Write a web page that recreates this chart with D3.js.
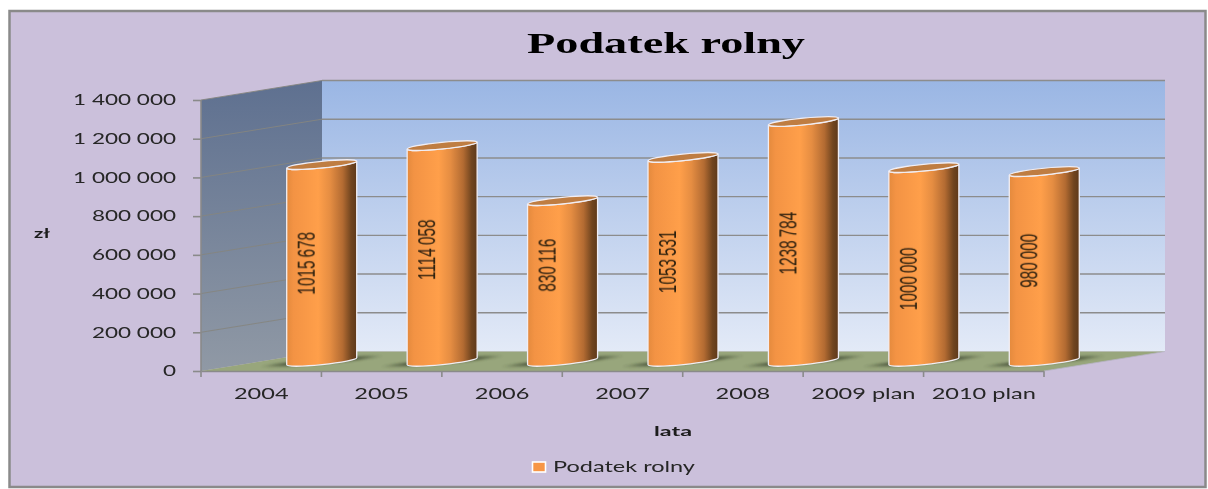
<!DOCTYPE html>
<html lang="pl">
<head>
<meta charset="utf-8">
<script src="https://cdn.jsdelivr.net/npm/d3@7"></script>
<style>
html,body{margin:0;padding:0;background:#fff;overflow:hidden}
svg{display:block}
</style>
</head>
<body>
<svg id="chart" width="1208" height="489"></svg>
<script>
const categories = ["2004","2005","2006","2007","2008","2009 plan","2010 plan"];
const values = [1015678,1114058,830116,1053531,1238784,1000000,980000];
const valueLabels = ["1015 678","1114 058","830 116","1053 531","1238 784","1000 000","980 000"];
const labelValuePositions = [506000,576000,496000,514000,610000,426000,519000];
const yTicks = [0,200000,400000,600000,800000,1000000,1200000,1400000];
const seriesName = "Podatek rolny";

const svg = d3.select("#chart"), defs = svg.append("defs");
const depthX = 121, depthY = 19.5, barW = 70;
const x = d3.scaleBand().domain(categories).range([201,1044]);
const y = d3.scaleLinear().domain([0,1400000]).range([371,100]);
const barCx = c => x(c) + x.bandwidth()/2 + depthX/2;
const barBase = y(0) - depthY/2;

function vGrad(id, a, b){
  const g = defs.append("linearGradient").attr("id",id).attr("x1",0).attr("y1",0).attr("x2",0).attr("y2",1);
  g.append("stop").attr("offset",0).attr("stop-color",a);
  g.append("stop").attr("offset",1).attr("stop-color",b);
}
vGrad("wallBack","#9AB6E4","#E3EAF7");
vGrad("wallSide","#5E7090","#9099A5");
const bg = defs.append("linearGradient").attr("id","barGrad");
[[0,"#E48A3D"],[.1,"#F39344"],[.45,"#FF9F4A"],[.62,"#E58D42"],[.8,"#B36B32"],[.92,"#71451F"],[1,"#5E391A"]]
  .forEach(s => bg.append("stop").attr("offset",s[0]).attr("stop-color",s[1]));
const sg = defs.append("radialGradient").attr("id","shadowGrad");
[[0,"#2E3824",1],[.6,"#2E3824",.9],[1,"#2E3824",0]]
  .forEach(s => sg.append("stop").attr("offset",s[0]).attr("stop-color",s[1]).attr("stop-opacity",s[2]));
defs.append("filter").attr("id","soft").attr("x","-5%").attr("y","-30%").attr("width","110%").attr("height","160%")
  .append("feGaussianBlur").attr("stdDeviation",0.45);
defs.append("filter").attr("id","softV").attr("x","-30%").attr("y","-5%").attr("width","160%").attr("height","110%")
  .append("feGaussianBlur").attr("stdDeviation",0.25);
defs.append("filter").attr("id","shadow").attr("x","-20%").attr("y","-150%").attr("width","140%").attr("height","400%")
  .append("feGaussianBlur").attr("stdDeviation",1);

// Frame
svg.append("rect").attr("x",9.5).attr("y",11).attr("width",1196).attr("height",476)
  .attr("fill","#CBC0DB").attr("stroke","#8A8A8A").attr("stroke-width",2.5);

// Walls and floor
const x0 = x.range()[0], x1 = x.range()[1];
const poly = pts => "M" + pts.map(p => p.join(",")).join("L") + "Z";
svg.append("path").attr("d",poly([[x0,y(0)],[x0+depthX,y(0)-depthY],[x0+depthX,y(1400000)-depthY],[x0,y(1400000)]]))
  .attr("fill","url(#wallSide)");
svg.append("rect").attr("x",x0+depthX).attr("y",y(1400000)-depthY).attr("width",x1-x0).attr("height",y(0)-y(1400000))
  .attr("fill","url(#wallBack)");
svg.append("path").attr("d",poly([[x0,y(0)],[x0+depthX,y(0)-depthY],[x1+depthX,y(0)-depthY],[x1,y(0)]]))
  .attr("fill","#98A67C");

// Gridlines
svg.append("g").selectAll("path").data(yTicks.filter(t=>t>0)).join("path")
  .attr("d",t => `M${x0},${y(t)}L${x0+depthX},${y(t)-depthY}`)
  .attr("stroke","#85857F").attr("stroke-width",1).attr("fill","none").attr("opacity",0.9);
svg.append("g").selectAll("line").data(yTicks.filter(t=>t>0)).join("line")
  .attr("x1",x0+depthX).attr("x2",x1+depthX)
  .attr("y1",t=>y(t)-depthY).attr("y2",t=>y(t)-depthY)
  .attr("stroke","#8C8C8C").attr("stroke-width",1.4);

// Floor shadows
svg.append("g").selectAll("ellipse").data(categories).join("ellipse")
  .attr("cx",c=>barCx(c)).attr("cy",barBase).attr("rx",62).attr("ry",3.4)
  .attr("transform",c=>`rotate(-5 ${barCx(c)} ${barBase})`)
  .attr("fill","url(#shadowGrad)").attr("opacity",.72).attr("filter","url(#shadow)");

// Cylinders
const rx = barW/2, ry = 3.3, tilt = -5.7, lift = 3.5;
const bars = svg.append("g").selectAll("g").data(categories).join("g");
bars.append("path")
  .attr("d",(c,i)=>{
    const cx = barCx(c), top = y(values[i]) - depthY/2;
    return `M${cx-rx},${top+lift}L${cx-rx},${barBase+lift}`+
      `A${rx},${ry} ${tilt} 0 0 ${cx+rx},${barBase-lift}`+
      `L${cx+rx},${top-lift}`+
      `A${rx},${ry} ${tilt} 0 1 ${cx-rx},${top+lift}Z`;
  })
  .attr("fill","url(#barGrad)").attr("stroke","#F1EEF4").attr("stroke-width",1.3).attr("stroke-linejoin","round");
bars.append("ellipse")
  .attr("cx",c=>barCx(c)).attr("cy",(c,i)=>y(values[i])-depthY/2)
  .attr("rx",rx).attr("ry",ry)
  .attr("transform",(c,i)=>`rotate(${tilt} ${barCx(c)} ${y(values[i])-depthY/2})`)
  .attr("fill","#BF7D42").attr("stroke","#F1EEF4").attr("stroke-width",1.2);

// Stretched text helper
function stretch(sel, factor){
  sel.each(function(){
    const t = d3.select(this);
    t.attr("textLength", this.getComputedTextLength()*factor).attr("lengthAdjust","spacingAndGlyphs");
  });
  return sel;
}
const plLocale = d3.formatLocale({decimal:",",thousands:" ",grouping:[3],currency:["","zł"]});

// Value axis
const yAxisG = svg.append("g").attr("transform",`translate(${x0},0)`)
  .call(d3.axisLeft(y).tickValues(yTicks).tickFormat(plLocale.format(",d")).tickSize(8).tickPadding(17));
yAxisG.selectAll("line,path").attr("stroke","#8A8A8A").attr("stroke-width",1.6);
yAxisG.select(".domain").attr("d",`M0,${y(1400000)}L0,${y(0)}`);
const yTxt = yAxisG.selectAll("text").attr("font-family","Lato").attr("font-size",15).attr("fill","#262626").attr("filter","url(#soft)");
stretch(yTxt,1.5);

// Category axis
const xAxisG = svg.append("g").attr("transform",`translate(0,${y(0)})`)
  .call(d3.axisBottom(x).tickSize(0).tickPadding(17));
xAxisG.select(".domain").attr("stroke","#8A8A8A").attr("stroke-width",1.6);
const xTxt = xAxisG.selectAll("text").attr("font-family","Lato").attr("font-size",15).attr("fill","#262626").attr("filter","url(#soft)");
stretch(xTxt,1.57);
xAxisG.selectAll("line.edge").data(categories.concat(["end"])).join("line").attr("class","edge")
  .attr("x1",(c,i)=>x0+i*x.step()).attr("x2",(c,i)=>x0+i*x.step()).attr("y1",0).attr("y2",6)
  .attr("stroke","#8A8A8A").attr("stroke-width",1.6);
svg.append("path").attr("d",`M${x1},${y(0)}L${x1+depthX},${y(0)-depthY}`).attr("stroke","#B5B2C2").attr("stroke-width",0.8).attr("fill","none");

// Data labels
const labels = svg.append("g").selectAll("text").data(categories).join("text")
  .attr("transform",(c,i)=>`translate(${barCx(c)-16},${y(labelValuePositions[i]) - depthY/2}) rotate(-90)`)
  .attr("text-anchor","middle").attr("dy","0.36em")
  .attr("font-family","'Liberation Sans Narrow','Liberation Sans'").attr("font-size",24).attr("fill","#2E2010")
  .attr("word-spacing",-2)
  .attr("filter","url(#softV)")
  .text((c,i)=>valueLabels[i]);
stretch(labels,0.64);

// Titles
const txt = (s,cx,cy,fam,size,weight,len,fill)=>{
  const t = svg.append("text").attr("x",cx).attr("y",cy).attr("text-anchor","middle")
    .attr("font-family",fam).attr("font-size",size).attr("font-weight",weight).attr("fill",fill).attr("filter","url(#soft)").text(s);
  if(len) t.attr("textLength",len).attr("lengthAdjust","spacingAndGlyphs");
  return t;
};
txt("Podatek rolny",666,53,"'Liberation Serif'",30,700,278,"#050505");
txt("lata",673,436,"Lato",14,700,38,"#1a1a1a");
txt("zł",42,238,"Lato",14,700,16,"#1a1a1a");

// Legend
svg.append("rect").attr("x",532.5).attr("y",462).attr("width",13).attr("height",10)
  .attr("fill","#F79646").attr("stroke","#fff").attr("stroke-width",1.6);
txt(seriesName,624,472,"Lato",15,400,142,"#262626");
</script>
</body>
</html>
